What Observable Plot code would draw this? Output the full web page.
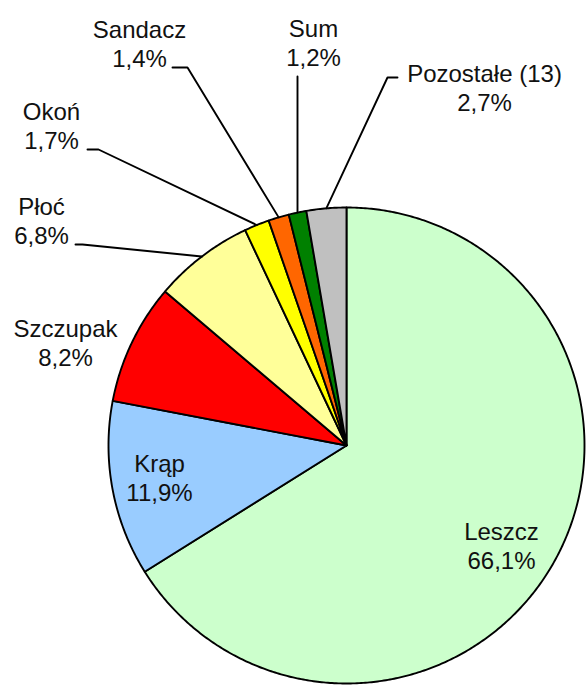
<!DOCTYPE html>
<html>
<head>
<meta charset="utf-8">
<script src="https://cdn.jsdelivr.net/npm/d3@7"></script>
<script src="https://cdn.jsdelivr.net/npm/@observablehq/plot@0.6"></script>
<style>
  html, body { margin: 0; padding: 0; background: #fff; }
  #chart svg { display: block; }
</style>
</head>
<body>
<div id="chart"></div>
<script>
// ---- data ----
const names  = ["Leszcz", "Krąp", "Szczupak", "Płoć", "Okoń", "Sandacz", "Sum", "Pozostałe (13)"];
const shares = [66.1, 11.9, 8.2, 6.8, 1.7, 1.4, 1.2, 2.7];
const colors = ["#CCFFCC", "#99CCFF", "#FF0000", "#FFFF99", "#FFFF00", "#FF6600", "#008000", "#C0C0C0"];

// ---- layout (pixel positions of labels and leader elbows) ----
const W = 586, H = 686;
const cx = 346, cy = 445, R = 238;
const labelX  = [501, 159, 65, 41, 51, 139, 313, 484];
const labelB1 = [538, 470, 335, 213, 118, 36, 35, 80];   // baseline of first line
const leaderStart = [null, null, null, [75, 244], [87, 149], [172, 67], [297, 76], [397, 77]];
const leaderElbow = [null, null, null, [82, 244], [98, 149], [187, 67], null, [387, 77]];

const fontSize = 24, lineHeight = 1.2;

// ---- derived geometry ----
const total = d3.sum(shares);
let acc = 0;
const slices = names.map((n, i) => {
  const a0 = acc / total * 360;
  acc += shares[i];
  const a1 = acc / total * 360;
  return {name: n, a0, a1, mid: (a0 + a1) / 2, i};
});
const pt = (deg, rad) => {
  const t = deg * Math.PI / 180;
  return [cx + rad * Math.sin(t), cy - rad * Math.cos(t)];
};
const polyPts = [];
for (const s of slices) {
  polyPts.push({name: s.name, x: cx, y: cy});
  const n = Math.max(2, Math.ceil((s.a1 - s.a0) / 0.5));
  for (let k = 0; k <= n; k++) {
    const [x, y] = pt(s.a0 + (s.a1 - s.a0) * k / n, R);
    polyPts.push({name: s.name, x, y});
  }
}
const leaderPts = [];
slices.forEach((s, i) => {
  if (!leaderStart[i]) return;
  leaderPts.push({name: s.name, x: leaderStart[i][0], y: leaderStart[i][1]});
  if (leaderElbow[i]) leaderPts.push({name: s.name, x: leaderElbow[i][0], y: leaderElbow[i][1]});
  const [ex, ey] = pt(s.mid, R);
  leaderPts.push({name: s.name, x: ex, y: ey});
});
const fmt = v => v.toFixed(1).replace(".", ",") + "%";
const labelData = slices.map((s, i) => ({
  text: names[i] + "\n" + fmt(shares[i]),
  x: labelX[i],
  // middle line anchor: first baseline sits at y - 0.28em
  y: labelB1[i] + fontSize * (lineHeight / 2 - 0.32)
}));

const chart = Plot.plot({
  width: W,
  height: H,
  margin: 0,
  x: {domain: [0, W], axis: null},
  y: {domain: [0, H], reverse: true, axis: null},
  color: {domain: names, range: colors},
  style: {fontFamily: "'Liberation Sans', Arial, sans-serif", background: "#fff"},
  marks: [
    Plot.line(polyPts, {x: "x", y: "y", z: "name", fill: "name", stroke: "#000",
      strokeWidth: 1.9, curve: "linear-closed", strokeLinejoin: "round"}),
    Plot.line(leaderPts, {x: "x", y: "y", z: "name", stroke: "#000", strokeWidth: 1.9}),
    Plot.text(labelData, {x: "x", y: "y", text: "text", fontSize, lineHeight,
      textAnchor: "middle", lineAnchor: "middle", fill: "#111"})
  ]
});
document.getElementById("chart").appendChild(chart);
</script>
</body>
</html>
